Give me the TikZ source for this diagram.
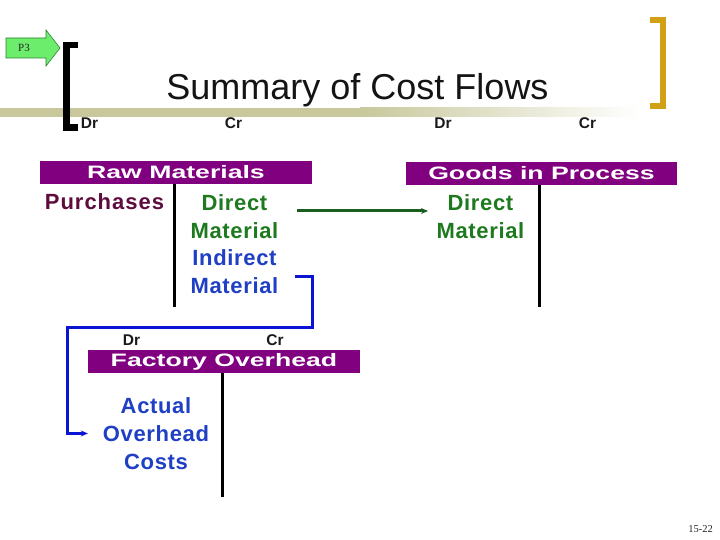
\documentclass[tikz,border=0pt]{standalone}
\usepackage{fontspec}
\setmainfont{Liberation Sans}
\newfontfamily\serifont{Liberation Serif}
\newfontfamily\entryfont[LetterSpace=3]{Liberation Sans}
\newfontfamily\purchfont[LetterSpace=4.5]{Liberation Sans}
\usetikzlibrary{arrows.meta,calc}
\definecolor{barpurple}{HTML}{800080}
\definecolor{olivebar}{HTML}{C8C89C}
\definecolor{goldbr}{HTML}{D2A014}
\definecolor{ptgreen}{HTML}{6CEE6C}
\definecolor{ptedge}{HTML}{2E7D32}
\definecolor{txtgreen}{HTML}{1E7A1E}
\definecolor{txtblue}{HTML}{1F3FC4}
\definecolor{txtmaroon}{HTML}{5E0B3E}
\definecolor{arrgreen}{HTML}{1B5E20}
\definecolor{arrblue}{HTML}{0A14D2}
\newcommand{\bartext}[1]{\scalebox{1.48}[1]{\fontsize{18}{18}\selectfont\bfseries #1}}
\tikzset{
  bar/.style={fill=barpurple, text=white, minimum height=23pt, minimum width=272pt, inner sep=0pt},
  drcr/.style={font=\fontsize{15.5}{15.5}\selectfont\bfseries, text=black!90, anchor=base, inner sep=0pt},
  entry/.style={font=\entryfont\fontsize{22}{28}\selectfont\bfseries, align=center, inner sep=0pt, anchor=north},
  tline/.style={line width=3pt, black},
}
\begin{document}
\begin{tikzpicture}[x=1pt,y=-1pt]
\useasboundingbox (0,0) rectangle (720,540);
\fill[white] (0,0) rectangle (720,540);
% olive rule under title
\fill[olivebar] (0,108) rectangle (360,117);
\shade[left color=olivebar, right color=white] (360,108) rectangle (640,117);
% brackets
\draw[line width=6.5pt, black, miter limit=10] (78,45) -- (66.5,45) -- (66.5,127.5) -- (78,127.5);
\draw[line width=6pt, goldbr] (650,20) -- (663,20) -- (663,106) -- (650,106);
% P3 arrow
\draw[ptedge, fill=ptgreen, line width=0.6pt] (6,38) -- (46,38) -- (46,30) -- (60,48) -- (46,66) -- (46,58) -- (6,58) -- cycle;
\node[font=\serifont\fontsize{11}{11}\selectfont, text=black!85] (p3) at (24,48) {P3};
% title
\node[anchor=base, font=\fontsize{36}{36}\selectfont, text=black!92, inner sep=0pt] (title) at (357.5,100) {Summary of Cost Flows};
% Dr / Cr top
\node[drcr] (dr1) at (89.5,129) {Dr};
\node[drcr] (cr1) at (233.5,129) {Cr};
\node[drcr] (dr2) at (443,129) {Dr};
\node[drcr] (cr2) at (587.5,129) {Cr};
% bars
\node[bar] (rm) at (176,172.5) {\bartext{Raw Materials}};
\node[bar, minimum width=271pt] (gip) at (541.5,173.5) {\bartext{Goods in Process}};
\node[bar] (fo) at (224,361.5) {\bartext{Factory Overhead}};
% T lines
\draw[tline] (174,184) -- (174,307);
\draw[tline] (539,185) -- (539,307);
\draw[tline] (222,373) -- (222,497);
% Dr / Cr for factory overhead
\node[drcr] (dr3) at (131.5,345) {Dr};
\node[drcr] (cr3) at (275,345) {Cr};
% entries
\node[anchor=base, font=\purchfont\fontsize{22}{28}\selectfont\bfseries, text=txtmaroon, inner sep=0pt] (purch) at (104.5,210) {Purchases};
\node[entry, text=txtgreen] (rmdm) at (234.5,194.2) {Direct\\Material};
\node[entry, text=txtblue] (rmim) at (234.5,249.2) {Indirect\\Material};
\node[entry, text=txtgreen] (gipdm) at (480.5,194.2) {Direct\\Material};
\node[entry, text=txtblue, minimum width=136pt] (aoc) at (156,397.2) {Actual\\Overhead\\Costs};
% green flow arrow
\coordinate (gstart) at (297,211);
\draw[arrgreen, line width=3pt, -{Stealth[length=7pt,width=6pt]}] (gstart) -- (gstart -| {428,0});
% blue flow arrow
\coordinate (bstart) at (295,276);
\coordinate (bc1) at (312,276);
\coordinate (bc2) at (312,327);
\coordinate (bc3) at (67,327);
\draw[arrblue, line width=3pt, -{Stealth[length=7pt,width=6pt]}] (bstart) -- (bc1) -- (bc2) -- (bc3) |- (aoc.west);
% page number
\node[anchor=base east, font=\serifont\fontsize{10.5}{10.5}\selectfont, text=black!85, inner sep=0pt] (pg) at (713,532) {15-22};
\end{tikzpicture}
\end{document}
